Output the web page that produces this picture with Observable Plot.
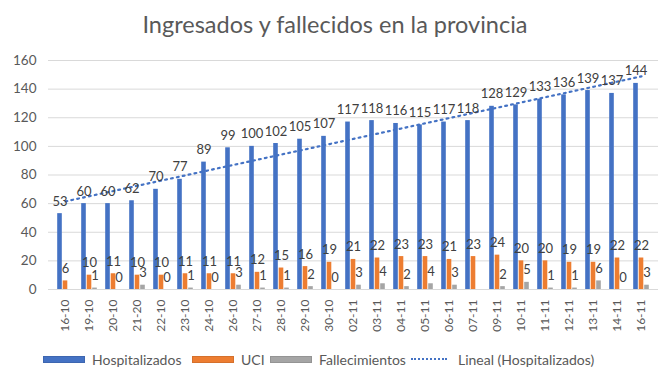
<!DOCTYPE html>
<html>
<head>
<meta charset="utf-8">
<script src="https://cdn.jsdelivr.net/npm/d3@7"></script>
<script src="https://cdn.jsdelivr.net/npm/@observablehq/plot@0.6"></script>
<style>
  body { margin: 0; background: #fff; width: 670px; height: 377px; overflow: hidden; font-family: Lato, sans-serif; }
  #title { height: 45px; line-height: 48px; text-align: center; font-size: 23.5px; color: #595959; }
  #chart svg g[aria-label^="x-axis"] text { font-size: 12px; }
  #legend { position: relative; height: 32px; font-size: 14px; color: #595959; }
  .item { position: absolute; top: 5px; display: flex; align-items: center; height: 18px; }
  .sw { width: 42px; height: 7px; margin-right: 7px; box-sizing: border-box; }
</style>
</head>
<body>
<div id="title">Ingresados y fallecidos en la provincia</div>
<div id="chart"></div>
<div id="legend"></div>
<script>
const dates = ["16-10","19-10","20-10","21-20","22-10","23-10","24-10","26-10","27-10","28-10","29-10","30-10","02-11","03-11","04-11","05-11","06-11","07-11","09-11","10-11","11-11","12-11","13-11","14-11","16-11"];
const hospitalizados = [53,60,60,62,70,77,89,99,100,102,105,107,117,118,116,115,117,118,128,129,133,136,139,137,144];
const uci = [6,10,11,10,10,11,11,11,12,15,16,19,21,22,23,23,21,23,24,20,20,19,19,22,22];
const fallecimientos = [null,1,0,3,0,1,0,3,1,1,2,0,3,4,2,4,3,null,2,5,1,1,6,0,3];
const yTicks = [0,20,40,60,80,100,120,140,160];
const seriesNames = ["Hospitalizados","UCI","Fallecimientos","Lineal (Hospitalizados)"];
const colors = ["#4472C4","#ED7D31","#A5A5A5"];

const rows = dates.map((d, i) => ({date: d, i, hosp: hospitalizados[i], uci: uci[i], fall: fallecimientos[i]}));

// least-squares linear trend of Hospitalizados (Excel "Lineal")
const mx = d3.mean(rows, r => r.i), my = d3.mean(rows, r => r.hosp);
const b = d3.sum(rows, r => (r.i - mx) * (r.hosp - my)) / d3.sum(rows, r => (r.i - mx) ** 2);
const a = my - b * mx;

const W = 670, ML = 48, MR = 12;
const bw = (W - ML - MR) / dates.length;
const barW = 5;
const inset = (bw - barW) / 2;
const offs = [-5.5, 0, 5.5];
const keys = ["hosp","uci","fall"];

const marks = [Plot.ruleY(yTicks, {stroke: "#d9d9d9", strokeWidth: 1})];
keys.forEach((k, j) => {
  marks.push(Plot.barY(rows.filter(r => r[k] != null), {x: "date", y: k, fill: colors[j], dx: offs[j], insetLeft: inset, insetRight: inset}));
});
marks.push(Plot.line(rows, {x: "date", y: r => a + b * r.i, stroke: "#4472C4", strokeWidth: 2.2, strokeDasharray: "1.8,4.2"}));
keys.forEach((k, j) => {
  marks.push(Plot.text(rows.filter(r => r[k] != null), {x: "date", y: k, text: k, dx: offs[j], dy: -8, lineAnchor: "bottom", fill: "#404040", fontSize: 13}));
});

const chart = Plot.plot({
  width: W, height: 300,
  marginTop: 15, marginBottom: 56, marginLeft: ML, marginRight: MR,
  style: {fontFamily: "Lato, sans-serif", fontSize: "13.5px", color: "#595959", background: "#fff"},
  x: {domain: dates, padding: 0, label: null, tickRotate: -90, tickSize: 0, tickPadding: 10},
  y: {domain: [0, 160], ticks: yTicks, label: null, tickSize: 0, tickPadding: 12},
  marks
});
document.getElementById("chart").appendChild(chart);

// legend
const legend = document.getElementById("legend");
const lefts = [43, 192, 270, 411];
seriesNames.forEach((name, j) => {
  const it = document.createElement("div");
  it.className = "item";
  it.style.left = lefts[j] + "px";
  const sw = document.createElement("div");
  if (j < 3) {
    sw.className = "sw";
    sw.style.background = colors[j];
    sw.style.border = "1px solid " + d3.color(colors[j]).darker(0.3);
  } else {
    sw.style.width = "36px";
    sw.style.height = "0px";
    sw.style.borderTop = "2px dotted #4472C4";
    sw.style.marginRight = "11px";
  }
  const t = document.createElement("span");
  t.textContent = name;
  it.appendChild(sw); it.appendChild(t);
  legend.appendChild(it);
});
</script>
</body>
</html>
